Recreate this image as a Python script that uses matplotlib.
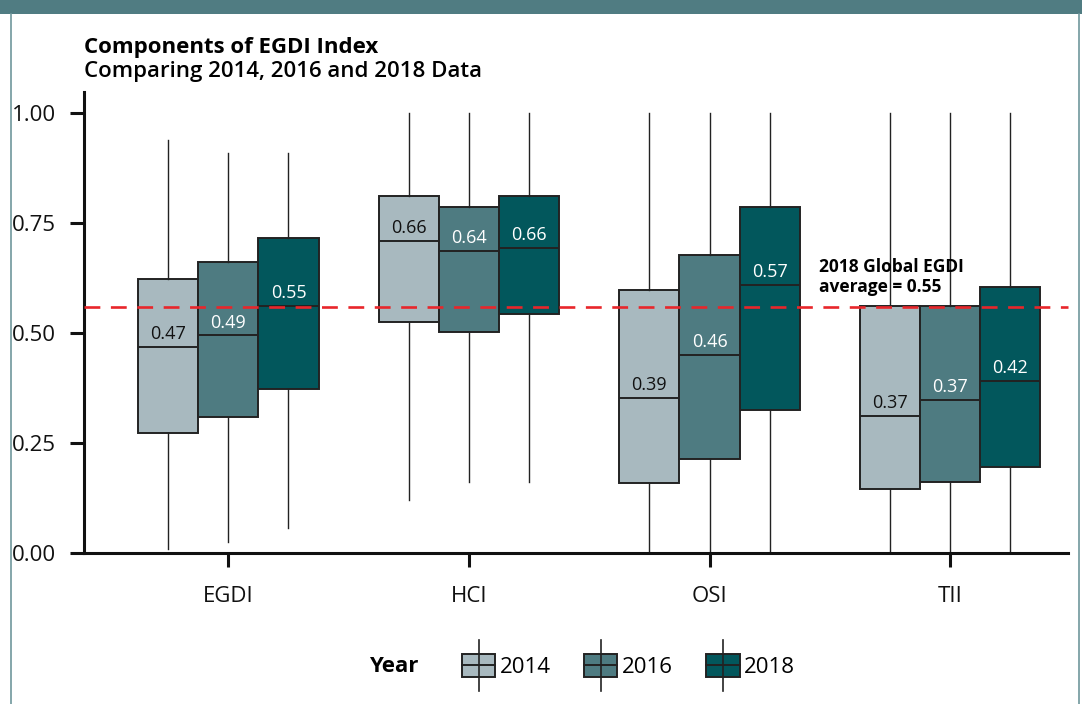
import matplotlib
matplotlib.use("Agg")
import matplotlib.pyplot as plt
from matplotlib.patches import Rectangle
from matplotlib.lines import Line2D
from matplotlib.legend_handler import HandlerBase

plt.rcParams['font.family'] = ['Open Sans', 'DejaVu Sans']

categories = ["EGDI", "HCI", "OSI", "TII"]
years = ["2014", "2016", "2018"]
colors = ["#a8b9bf", "#4e7b81", "#02575c"]
label_colors = ["#111111", "white", "white"]

# box statistics per year, one value per category
low_2014 = [0.01, 0.12, 0.0, 0.0]
q1_2014 = [0.273, 0.525, 0.159, 0.145]
med_2014 = [0.468, 0.709, 0.352, 0.311]
q3_2014 = [0.623, 0.811, 0.598, 0.561]
high_2014 = [0.94, 1.0, 1.0, 1.0]
mean_2014 = [0.47, 0.66, 0.39, 0.37]

low_2016 = [0.025, 0.161, 0.0, 0.0]
q1_2016 = [0.309, 0.502, 0.214, 0.161]
med_2016 = [0.495, 0.686, 0.45, 0.348]
q3_2016 = [0.661, 0.786, 0.677, 0.561]
high_2016 = [0.91, 1.0, 1.0, 1.0]
mean_2016 = [0.49, 0.64, 0.46, 0.37]

low_2018 = [0.057, 0.161, 0.0, 0.0]
q1_2018 = [0.373, 0.543, 0.325, 0.195]
med_2018 = [0.561, 0.693, 0.609, 0.391]
q3_2018 = [0.716, 0.811, 0.786, 0.605]
high_2018 = [0.91, 1.0, 1.0, 1.0]
mean_2018 = [0.55, 0.66, 0.57, 0.42]

global_avg = 0.56
global_label = "2018 Global EGDI\naverage = 0.55"

series = [
    (low_2014, q1_2014, med_2014, q3_2014, high_2014, mean_2014),
    (low_2016, q1_2016, med_2016, q3_2016, high_2016, mean_2016),
    (low_2018, q1_2018, med_2018, q3_2018, high_2018, mean_2018),
]

W, H = 1082, 704
fig = plt.figure(figsize=(W / 100, H / 100), dpi=100)

# frame decoration
fig.patches.append(Rectangle((0, 1 - 14 / H), 1, 14 / H, transform=fig.transFigure,
                             facecolor="#507c82", edgecolor="none"))
fig.lines.append(Line2D([11 / W, 11 / W], [0, 1 - 14 / H], transform=fig.transFigure,
                        color="#6f979c", lw=1.2))
fig.lines.append(Line2D([1079 / W, 1079 / W], [0, 1 - 14 / H], transform=fig.transFigure,
                        color="#6f979c", lw=1.2))

ax = fig.add_axes([84 / W, 1 - 553 / H, (1068 - 84) / W, (553 - 92) / H])

width = 0.25
offsets = [-0.25, 0.0, 0.25]
edge = "#222222"
for i, (lo, q1, med, q3, hi, mean) in enumerate(series):
    stats = []
    for j in range(len(categories)):
        stats.append({"whislo": lo[j], "q1": q1[j], "med": med[j],
                      "q3": q3[j], "whishi": hi[j]})
    pos = [j + offsets[i] for j in range(len(categories))]
    ax.bxp(stats, positions=pos, widths=width, patch_artist=True,
           showfliers=False, showcaps=False, manage_ticks=False,
           boxprops=dict(facecolor=colors[i], edgecolor=edge, linewidth=1.4),
           medianprops=dict(color=edge, linewidth=1.4),
           whiskerprops=dict(color=edge, linewidth=1.0), zorder=2)
    for j in range(len(categories)):
        ax.text(pos[j], med[j] + 0.029, f"{mean[j]:.2f}", ha="center", va="center",
                fontsize=13, color=label_colors[i], zorder=4)

ax.axhline(global_avg, color="#e8262b", lw=1.9, dashes=(6, 4), zorder=3, clip_on=False)
ax.text(2.455, 0.584, global_label, fontsize=12.5, fontweight="bold",
        ha="left", va="bottom", linespacing=1.15, zorder=5)

ax.set_xlim(-0.6, 3.49)
ax.set_ylim(0, 1.048)
ax.set_yticks([0, 0.25, 0.5, 0.75, 1.0])
ax.set_yticklabels(["0.00", "0.25", "0.50", "0.75", "1.00"])
ax.set_xticks(range(len(categories)))
ax.set_xticklabels(categories)
for s in ["top", "right"]:
    ax.spines[s].set_visible(False)
for s in ["left", "bottom"]:
    ax.spines[s].set_linewidth(2.2)
    ax.spines[s].set_color("#111111")
ax.tick_params(axis="y", length=10, width=2.2, pad=10, labelsize=16, colors="#111111")
ax.tick_params(axis="x", length=10, width=2.2, pad=14, labelsize=16, colors="#111111")

fig.text(84 / W, 1 - 47 / H, "Components of EGDI Index", fontsize=16,
         fontweight="bold", va="center", ha="left")
fig.text(84 / W, 1 - 72 / H, "Comparing 2014, 2016 and 2018 Data", fontsize=16,
         fontweight="semibold", va="center", ha="left")


class BoxHandler(HandlerBase):
    def create_artists(self, legend, orig_handle, xdescent, ydescent,
                       width, height, fontsize, trans):
        x0, y0 = -xdescent, -ydescent
        r = Rectangle((x0, y0), width, height, facecolor=orig_handle.get_facecolor(),
                      edgecolor=edge, lw=1.4, transform=trans)
        h = Line2D([x0, x0 + width], [y0 + height / 2] * 2, color=edge, lw=1.4,
                   transform=trans)
        v = Line2D([x0 + width / 2] * 2, [y0 - height * 0.6, y0 + height * 1.6],
                   color=edge, lw=1.2, transform=trans)
        return [r, h, v]


handles = [Rectangle((0, 0), 1, 1, facecolor=c) for c in colors]
fig.text(418 / W, 1 - 666 / H, "Year", fontsize=16, fontweight="bold",
         ha="right", va="center")
leg = fig.legend(handles, years, loc="center left", bbox_to_anchor=(462 / W, 1 - 666 / H),
                 ncol=3, frameon=False, fontsize=16, handlelength=1.5, handleheight=1.2,
                 handletextpad=0.2, columnspacing=1.5, borderaxespad=0, borderpad=0,
                 handler_map={Rectangle: BoxHandler()})

fig.savefig("out.png", dpi=100)
